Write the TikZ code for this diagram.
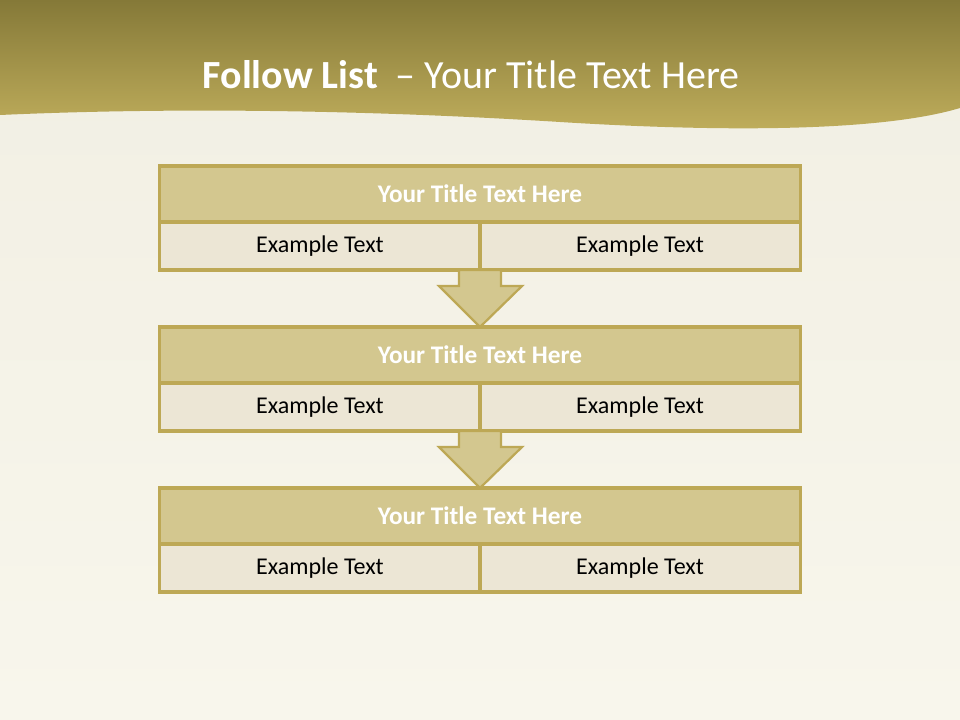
\documentclass[tikz,border=0pt]{standalone}
\usepackage{fontspec}
\setmainfont{Carlito}
\usetikzlibrary{positioning, calc}
\definecolor{orfonce}{HTML}{857938}
\definecolor{orclair}{HTML}{C0AE5C}
\definecolor{parchemin}{HTML}{F1EFE3}
\definecolor{parchemin2}{HTML}{F8F6EC}
\definecolor{bordure}{HTML}{BDA855}
\definecolor{titrefond}{HTML}{D3C78F}
\definecolor{casefond}{HTML}{ECE6D5}
\tikzset{
  titre/.style={rectangle, draw=bordure, line width=2.2pt, fill=titrefond,
    text=white, font=\fontsize{18}{21}\selectfont\bfseries,
    minimum width=16cm, minimum height=1.4cm, inner sep=0pt, outer sep=0pt},
  cellule/.style={rectangle, draw=bordure, line width=2.2pt, fill=casefond,
    text=black, font=\fontsize{17.1}{20}\selectfont,
    minimum width=8cm, minimum height=1.2cm, inner sep=0pt, outer sep=0pt},
  fleche/.style={draw=bordure, line width=1.6pt, fill=titrefond, line join=miter},
  entete/.style={text=white, font=\fontsize{28.4}{33}\selectfont}
}
\begin{document}
\begin{tikzpicture}[x=0.025cm, y=-0.025cm]
    % Fond
    \shade[top color=parchemin, bottom color=parchemin2] (0,0) rectangle (960,720);
    \shade[top color=orfonce, bottom color=orclair] (0,0) -- (960,0) -- (960,108)
      .. controls (880,132) and (720,132) .. (560,122)
      .. controls (400,112) and (200,106) .. (0,115) -- cycle;

    % Titre
    \node[entete] (entete) at (471,75) {\textbf{Follow List}\ \ – Your Title Text Here};

    % Blocs
    \foreach \i/\y in {1/166, 2/327, 3/488} {
      \node[titre, anchor=north] (t\i) at (480,\y) {Your Title Text Here};
      \node[cellule, anchor=north west] (g\i) at (t\i.south west) {Example Text};
      \node[cellule, anchor=north west] (d\i) at (g\i.north east) {Example Text};
    }

    % Fleches
    \foreach \i/\j in {1/2, 2/3} {
      \draw[fleche] ($(g\i.south east)+(-21,0)$) -- ++(0,16) -- ++(-20,0)
        -- (t\j.north) -- ++(42,-41) -- ++(-21,0) -- ++(0,-16) -- cycle;
    }
\end{tikzpicture}
\end{document}
